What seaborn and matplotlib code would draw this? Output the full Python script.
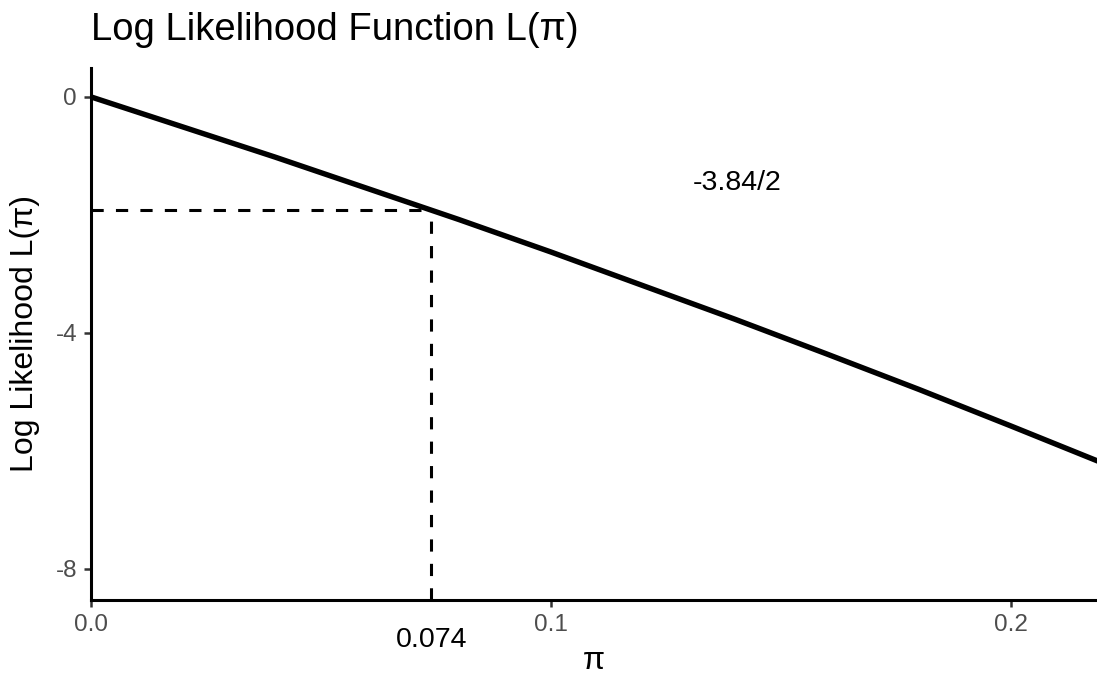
import matplotlib
matplotlib.use("Agg")
import pandas as pd
import matplotlib.pyplot as plt
import seaborn as sns

# values
pi_vals = [0.0, 0.02, 0.04, 0.06, 0.08, 0.10, 0.12, 0.14, 0.16, 0.18, 0.20, 0.22]
loglik = [0.0, -0.51, -1.02, -1.55, -2.08, -2.63, -3.20, -3.77, -4.36, -4.96, -5.58, -6.21]
pi_hat = 0.074
cutoff = -1.92
x_ticks = [0.0, 0.1, 0.2]
x_labels = ["0.0", "0.1", "0.2"]
y_ticks = [0, -4, -8]
y_labels = ["0", "-4", "-8"]

df = pd.DataFrame({"pi": pi_vals, "ll": loglik})

sns.set_style("white")
plt.rcParams["font.family"] = ["Liberation Sans", "DejaVu Sans"]
plt.rcParams["text.color"] = "black"
plt.rcParams["axes.labelcolor"] = "black"

fig = plt.figure(figsize=(10.97, 6.74), dpi=100)
ax = fig.add_axes([91 / 1097, 1 - 600 / 674, 1 - 91 / 1097, (600 - 68) / 674])

sns.lineplot(data=df, x="pi", y="ll", color="black", linewidth=3.9, ax=ax)
dash = (0, (4, 4))
ax.plot([0, pi_hat], [cutoff, cutoff], color="black", linestyle=dash, linewidth=2.2)
ax.plot([pi_hat, pi_hat], [-8.53, cutoff], color="black", linestyle=dash, linewidth=2.2)

ax.set_xlim(0, 0.2187)
ax.set_ylim(-8.53, 0.49)
ax.set_xticks(x_ticks)
ax.set_xticklabels(x_labels)
ax.set_yticks(y_ticks)
ax.set_yticklabels(y_labels)
ax.tick_params(axis="both", direction="out", length=5, width=1.8, color="#333333",
               labelcolor="#4d4d4d", labelsize=17.5, pad=5)
ax.tick_params(left=True, bottom=True)

for side in ["top", "right"]:
    ax.spines[side].set_visible(False)
for side in ["left", "bottom"]:
    ax.spines[side].set_color("black")
    ax.spines[side].set_linewidth(2.2)

ax.text(0.1404, -1.46, "-3.84/2", fontsize=20.5, ha="center", va="center")
ax.text(pi_hat, -9.2, "0.074", fontsize=20.5, ha="center", va="center", clip_on=False)

ax.set_xlabel("π", fontsize=23, labelpad=7)
ax.set_ylabel("Log Likelihood L(π)", fontsize=23, labelpad=11)
fig.text(91 / 1097, 1 - 40 / 674, "Log Likelihood Function L(π)", fontsize=27.5,
         ha="left", va="baseline")

fig.savefig("out.png", dpi=100)
